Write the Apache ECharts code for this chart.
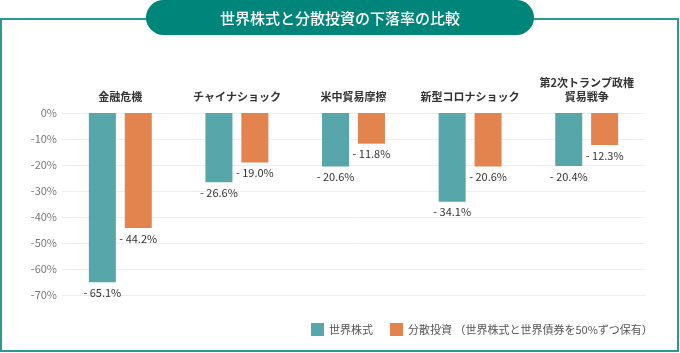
<!DOCTYPE html>
<html><head><meta charset="utf-8">
<script src="https://cdn.jsdelivr.net/npm/echarts@6/dist/echarts.min.js"></script>
<style>html,body{margin:0;padding:0;background:#fff}#c{width:680px;height:353px}</style>
</head><body><div id="c"></div>
<script>
const categories = ['金融危機', 'チャイナショック', '米中貿易摩擦', '新型コロナショック', '第2次トランプ政権\n貿易戦争'];
const stockValues = [-65.1, -26.6, -20.6, -34.1, -20.4];
const diversifiedValues = [-44.2, -19.0, -11.8, -20.6, -12.3];
const seriesNames = ['世界株式', '分散投資 （世界株式と世界債券を50%ずつ保有）'];
const yTicks = [0, -10, -20, -30, -40, -50, -60, -70];

const FONT = '"Noto Sans CJK JP", "Noto Sans", sans-serif';
const chart = echarts.init(document.getElementById('c'));
const labelFmt = p => '- ' + Math.abs(p.value).toFixed(1) + '%';
chart.setOption({
  animation: false,
  textStyle: { fontFamily: FONT },
  graphic: [
    { type: 'rect', shape: { x: 1, y: 19, width: 677, height: 332, r: 0 }, style: { fill: 'none', stroke: '#2b9990', lineWidth: 2 }, z: -1 },
    { type: 'rect', shape: { x: 146, y: 0, width: 388, height: 35, r: 17.5 }, style: { fill: '#00857a' }, z: 1 },
    { type: 'text', x: 340, y: 18, style: { text: '世界株式と分散投資の下落率の比較', fill: '#fff', font: '500 15px ' + FONT, align: 'center', verticalAlign: 'middle' }, z: 2 }
  ],
  legend: {
    left: 306, top: 318, itemWidth: 13, itemHeight: 13, itemGap: 17, icon: 'rect',
    textStyle: { color: '#555', fontSize: 11, fontFamily: FONT },
    data: seriesNames
  },
  grid: { left: 62, right: 35, top: 113, bottom: 58 },
  xAxis: {
    type: 'category', position: 'top', data: categories,
    axisLine: { show: false }, axisTick: { show: false },
    axisLabel: { color: '#333', fontSize: 11, fontWeight: 'bold', margin: 9, lineHeight: 14, fontFamily: FONT, interval: 0 }
  },
  yAxis: {
    type: 'value', min: -70, max: 0, interval: 10,
    axisLine: { show: false }, axisTick: { show: false },
    axisLabel: { color: '#777', fontSize: 11, margin: 5, fontFamily: FONT, formatter: v => yTicks.includes(v) ? v + '%' : '' },
    splitLine: { lineStyle: { color: '#eeeeee' } }
  },
  series: [
    { name: seriesNames[0], type: 'bar', data: stockValues, barWidth: 27, barGap: '33%',
      itemStyle: { color: '#57a6a9' },
      label: { show: true, position: 'bottom', distance: 5, color: '#333', fontSize: 11, fontFamily: FONT, formatter: labelFmt } },
    { name: seriesNames[1], type: 'bar', data: diversifiedValues, barWidth: 27,
      itemStyle: { color: '#e3834d' },
      label: { show: true, position: 'bottom', distance: 5, color: '#333', fontSize: 11, fontFamily: FONT, formatter: labelFmt } }
  ]
});
</script></body></html>
